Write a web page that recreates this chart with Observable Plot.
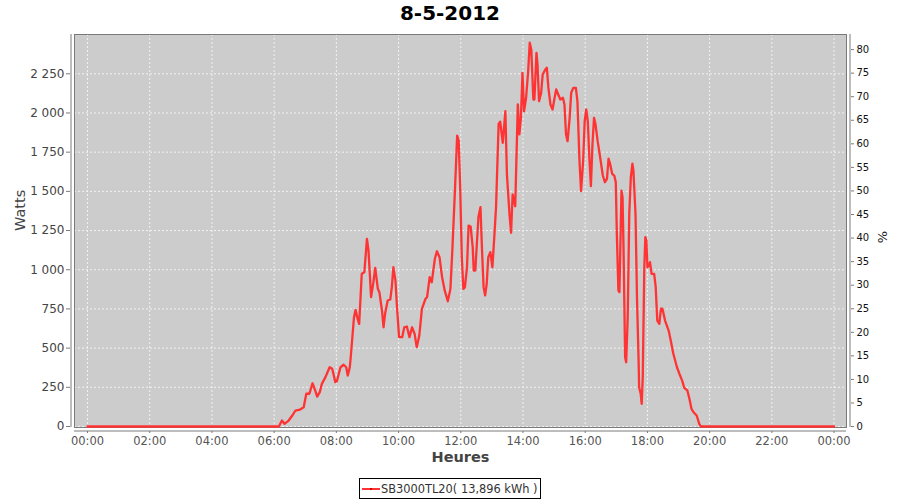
<!DOCTYPE html>
<html>
<head>
<meta charset="utf-8">
<script src="https://cdn.jsdelivr.net/npm/d3@7"></script>
<script src="https://cdn.jsdelivr.net/npm/@observablehq/plot@0.6"></script>
<style>
  html, body { margin: 0; padding: 0; background: #fff; }
  body { position: relative; width: 900px; height: 500px; overflow: hidden; font-family: "DejaVu Sans", sans-serif; }
  #title { position: absolute; left: 0; top: 1px; width: 900px; text-align: center; font: bold 20px "DejaVu Sans", sans-serif; color: #000; }
  #chart { position: absolute; left: 0; top: 28px; }
  #legend { position: absolute; left: 359px; top: 478px; width: 182px; height: 21px; box-sizing: border-box; border: 1px solid #000; display: flex; align-items: center; font: 11.4px "DejaVu Sans", sans-serif; color: #333; white-space: nowrap; }
  #legend svg { margin-left: 2px; margin-right: 1px; }
</style>
</head>
<body>
<div id="title">8-5-2012</div>
<div id="chart"></div>
<div id="legend"><svg width="18" height="8"><line x1="0" y1="4" x2="18" y2="4" stroke="#ff3333" stroke-width="2"></line><rect x="8" y="3" width="2" height="2" fill="#cc0000"></rect></svg><span>SB3000TL20( 13,896 kWh )</span></div>
<script>
// ---- data ----
const seriesName = "SB3000TL20( 13,896 kWh )";
const times = [
  "00:00","06:09","06:15","06:20","06:28","06:35","06:41","06:50","06:57","07:02","07:08","07:14","07:17","07:23","07:28","07:32","07:39","07:47","07:52","07:58",
  "08:01","08:08","08:14","08:19","08:22","08:26","08:28","08:34","08:37","08:41","08:44","08:49","08:54","08:59","09:02","09:07","09:11","09:15","09:20","09:23",
  "09:28","09:31","09:34","09:39","09:44","09:47","09:50","09:54","09:57","10:01","10:07","10:11","10:16","10:21","10:26","10:31","10:35","10:40","10:45","10:52",
  "10:55","11:00","11:04","11:10","11:14","11:19","11:24","11:29","11:35","11:40","11:44","11:49","11:53","11:56","11:59","12:02","12:05","12:08","12:12","12:15",
  "12:19","12:23","12:25","12:28","12:31","12:34","12:38","12:41","12:44","12:47","12:50","12:53","12:57","13:01","13:05","13:08","13:13","13:16","13:21","13:26",
  "13:29","13:34","13:37","13:40","13:45","13:50","13:53","13:56","13:59","14:02","14:06","14:10","14:13","14:16","14:20","14:22","14:26","14:28","14:31","14:35",
  "14:38","14:43","14:46","14:49","14:53","14:57","15:01","15:04","15:08","15:12","15:17","15:20","15:23","15:26","15:30","15:33","15:37","15:42","15:45","15:49",
  "15:52","15:56","15:59","16:02","16:05","16:08","16:11","16:14","16:17","16:20","16:24","16:28","16:34","16:38","16:42","16:45","16:48","16:52","16:56","16:59",
  "17:01","17:04","17:06","17:10","17:12","17:14","17:17","17:19","17:22","17:25","17:28","17:31","17:33","17:37","17:40","17:43","17:44","17:47","17:49","17:51",
  "17:54","17:56","17:58","18:00","18:03","18:05","18:08","18:13","18:16","18:19","18:23","18:26","18:29","18:34","18:41","18:45","18:50","18:57","19:03","19:07",
  "19:11","19:17","19:21","19:25","19:29","19:35","19:40","19:43","24:00"
];
const watts = [
  0,0,38,17,38,70,102,108,123,209,209,276,251,191,219,272,315,378,368,283,
  289,378,394,378,325,378,453,697,744,687,655,974,984,1197,1123,825,910,1012,878,857,
  740,633,719,804,810,889,1016,931,761,570,570,633,638,570,633,591,506,580,751,815,
  825,952,920,1070,1118,1080,952,868,799,878,1144,1527,1856,1824,1505,1080,878,889,1016,1282,
  1276,1144,995,995,1165,1335,1399,1123,889,836,910,1080,1112,1016,1229,1399,1931,1945,1810,2011,
  1608,1352,1236,1480,1405,2054,1863,1969,2256,2011,2097,2267,2448,2405,2086,2086,2384,2309,2075,2129,
  2245,2277,2288,2160,2054,2022,2097,2150,2118,2086,2097,2054,1863,1820,1969,2129,2160,2160,2075,1692,
  1501,1692,1948,2022,1948,1714,1533,1799,1969,1926,1820,1735,1601,1558,1580,1708,1676,1612,1601,1558,
  1229,868,857,1505,1463,1123,442,410,697,1357,1590,1676,1633,1357,804,421,251,209,145,315,
  1016,1208,1187,1016,1027,1048,974,974,889,676,655,751,751,676,612,549,464,378,325,293,
  247,230,177,113,91,70,17,0,0
];
const xTickHours = [0, 2, 4, 6, 8, 10, 12, 14, 16, 18, 20, 22, 24];
const wattTicks = [0, 250, 500, 750, 1000, 1250, 1500, 1750, 2000, 2250];
const pctTicks = [0, 5, 10, 15, 20, 25, 30, 35, 40, 45, 50, 55, 60, 65, 70, 75, 80];

// ---- build ----
const toHours = s => +s.slice(0, 2) + +s.slice(3, 5) / 60;
const data = times.map((t, i) => ({h: toHours(t), w: watts[i]}));

const xDomain = [-0.418, 24.40];
const yDomain = [-6.4, 2500.6];
const pctDomain = [-0.2, 83.2];
const pctToW = d3.scaleLinear().domain(pctDomain).range(yDomain);

const frLocale = d3.formatLocale({decimal: ",", thousands: "\u00a0", grouping: [3], currency: ["", " €"]});
const fmtW = frLocale.format(",d");
const fmtH = h => String(h % 24).padStart(2, "0") + ":00";

const chart = Plot.plot({
  width: 900,
  height: 445,
  marginLeft: 74,
  marginRight: 54,
  marginTop: 6,
  marginBottom: 46,
  style: {background: "transparent", fontFamily: "DejaVu Sans, sans-serif", overflow: "visible"},
  x: {domain: xDomain},
  y: {domain: yDomain},
  marks: [
    Plot.frame({fill: "#cccccc"}),
    Plot.gridX(xTickHours, {stroke: "#f2f2f2", strokeOpacity: 1, strokeDasharray: "2,2"}),
    Plot.gridY(wattTicks, {stroke: "#f2f2f2", strokeOpacity: 1, strokeDasharray: "2,2"}),
    Plot.frame({stroke: "#7a7a7a"}),
    Plot.line(data, {x: "h", y: "w", stroke: "#ff3333", strokeWidth: 2.3, strokeLinejoin: "round"}),
    // axis lines
    Plot.ruleX([xDomain[0]], {dx: -3.5, stroke: "#7a7a7a"}),
    Plot.ruleX([xDomain[1]], {dx: 3.5, stroke: "#7a7a7a"}),
    Plot.ruleY([yDomain[0]], {dy: 3.5, stroke: "#7a7a7a"}),
    // axes
    Plot.axisX(xTickHours, {tickFormat: fmtH, tickSize: 2, tickPadding: 3, dy: 4, fontSize: 11.5, color: "#555", stroke: "#7a7a7a", label: null}),
    Plot.axisY(wattTicks, {tickFormat: fmtW, tickSize: 4, tickPadding: 2, dx: -4, fontSize: 12, color: "#444", stroke: "#7a7a7a", label: null}),
    Plot.axisY(pctTicks.map(p => pctToW(p)), {anchor: "right", tickFormat: w => String(Math.round(pctToW.invert(w))), tickSize: 3, tickPadding: 3, dx: 4, fontSize: 10, color: "#111", stroke: "#7a7a7a", label: null}),
    // axis titles
    Plot.text(["Watts"], {frameAnchor: "left", text: d => d, rotate: -90, dx: -54, fontSize: 14.5, fill: "#444"}),
    Plot.text(["%"], {frameAnchor: "right", text: d => d, rotate: -90, dx: 36, fontSize: 13, fill: "#222"}),
    Plot.text(["Heures"], {frameAnchor: "bottom", text: d => d, dy: 34, fontSize: 14.5, fill: "#444", fontWeight: "bold"})
  ]
});
document.getElementById("chart").appendChild(chart);
</script>
</body>
</html>
